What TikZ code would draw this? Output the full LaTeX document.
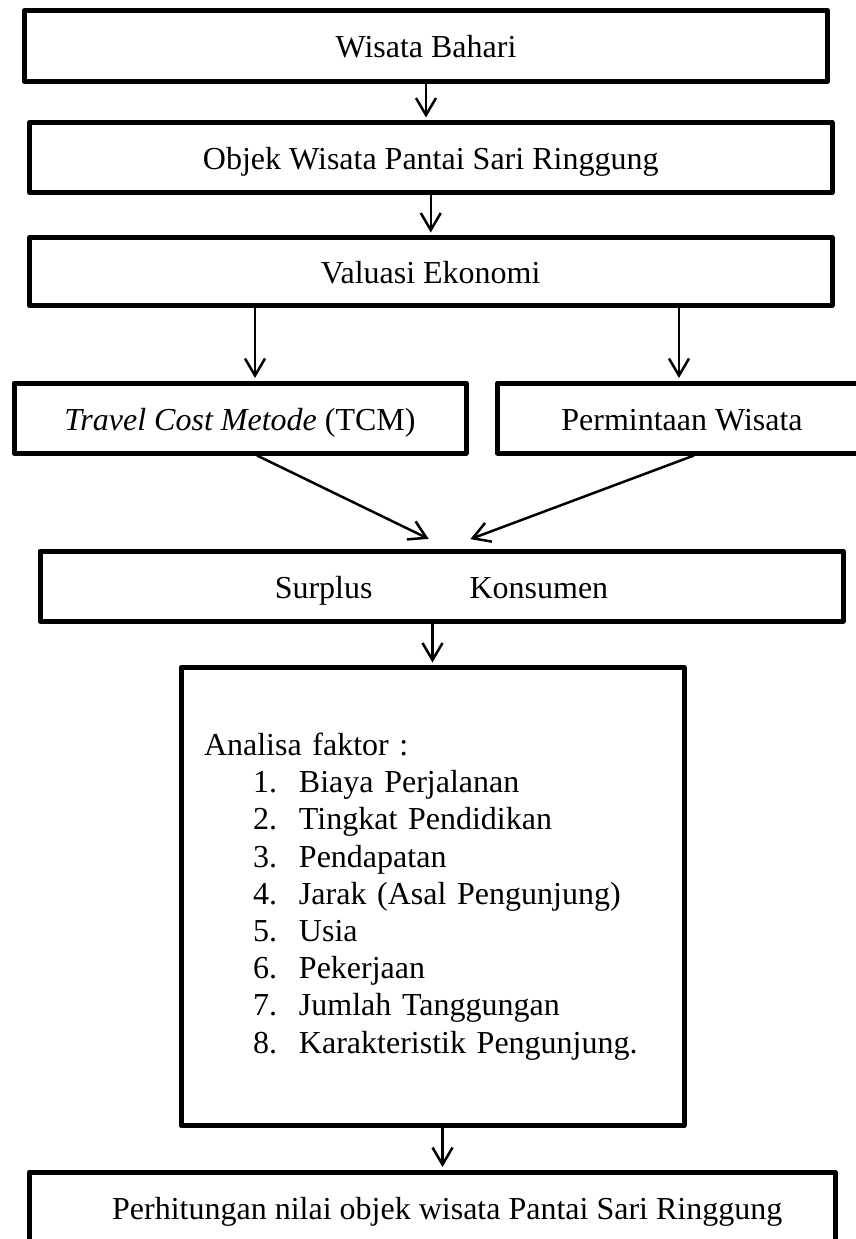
\documentclass[tikz,border=0pt]{standalone}
\usepackage{fontspec}
\setmainfont{Liberation Serif}
\usetikzlibrary{arrows.meta}

\begin{document}
\begin{tikzpicture}[x=1pt, y=-1pt, >={Straight Barb[length=17pt,width=20pt]}]
  \useasboundingbox (0,0) rectangle (856,1239);

  % Set the node styles
  \tikzset{flowbox/.style={draw, line width=5pt, line join=round, inner sep=0pt,
                           font=\fontsize{32}{37.2}\selectfont},
           linebox/.style={flowbox, text height=30pt, text depth=6pt},
           flowarrow/.style={->, line width=2.5pt, shorten >=2.5pt}}

  % One numbered factor line
  \def\fitem#1#2{\hspace*{49pt}\makebox[46pt][l]{#1}#2}

  % Draw the boxes
  \node[linebox, minimum width=803, minimum height=71] (bahari) at (426,46) {Wisata Bahari};
  \node[linebox, minimum width=802.5, minimum height=70] (objek) at (430.75,157.5) {Objek Wisata Pantai Sari Ringgung};
  \node[linebox, minimum width=802.5, minimum height=68] (valuasi) at (430.75,271.5) {Valuasi Ekonomi};
  \node[linebox, minimum width=452, minimum height=70] (tcm) at (240,418) {\textit{Travel Cost Metode} (TCM)};
  \node[linebox, minimum width=369, minimum height=70] (permintaan) at (682,418) {Permintaan Wisata};
  \node[linebox, minimum width=803, minimum height=70] (surplus) at (441.5,586) {Surplus\hspace{97pt}Konsumen};
  \node[flowbox, minimum width=503, minimum height=458, text width=457, inner xsep=23pt, align=left] (faktor) at (432.5,896.5) {%
    Analisa faktor :\\
    \fitem{1.}{Biaya Perjalanan}\\
    \fitem{2.}{Tingkat Pendidikan}\\
    \fitem{3.}{Pendapatan}\\
    \fitem{4.}{Jarak (Asal Pengunjung)}\\
    \fitem{5.}{Usia}\\
    \fitem{6.}{Pekerjaan}\\
    \fitem{7.}{Jumlah Tanggungan}\\
    \fitem{8.}{Karakteristik Pengunjung.}};
  \node[linebox, minimum width=805.5, minimum height=70] (hitung) at (432.25,1207) {\hspace*{30pt}Perhitungan nilai objek wisata Pantai Sari Ringgung};

  % Meeting points above the surplus box
  \coordinate (tiptcm) at (431,540);
  \coordinate (tippw) at (468,540);

  % Connect the boxes
  \draw[flowarrow] (bahari.south) -- (bahari.south |- objek.north);
  \draw[flowarrow] (objek.south) -- (objek.south |- valuasi.north);
  \draw[flowarrow] ([xshift=15pt]tcm.north |- valuasi.south) -- ([xshift=15pt]tcm.north);
  \draw[flowarrow] ([xshift=-3pt]permintaan.north |- valuasi.south) -- ([xshift=-3pt]permintaan.north);
  \draw[flowarrow] ([xshift=17pt]tcm.south) -- (tiptcm);
  \draw[flowarrow] ([xshift=12pt]permintaan.south) -- (tippw);
  \draw[flowarrow] (faktor.north |- surplus.south) -- (faktor.north);
  \draw[flowarrow] ([xshift=10pt]faktor.south) -- ([xshift=10pt]faktor.south |- hitung.north);
\end{tikzpicture}
\end{document}
